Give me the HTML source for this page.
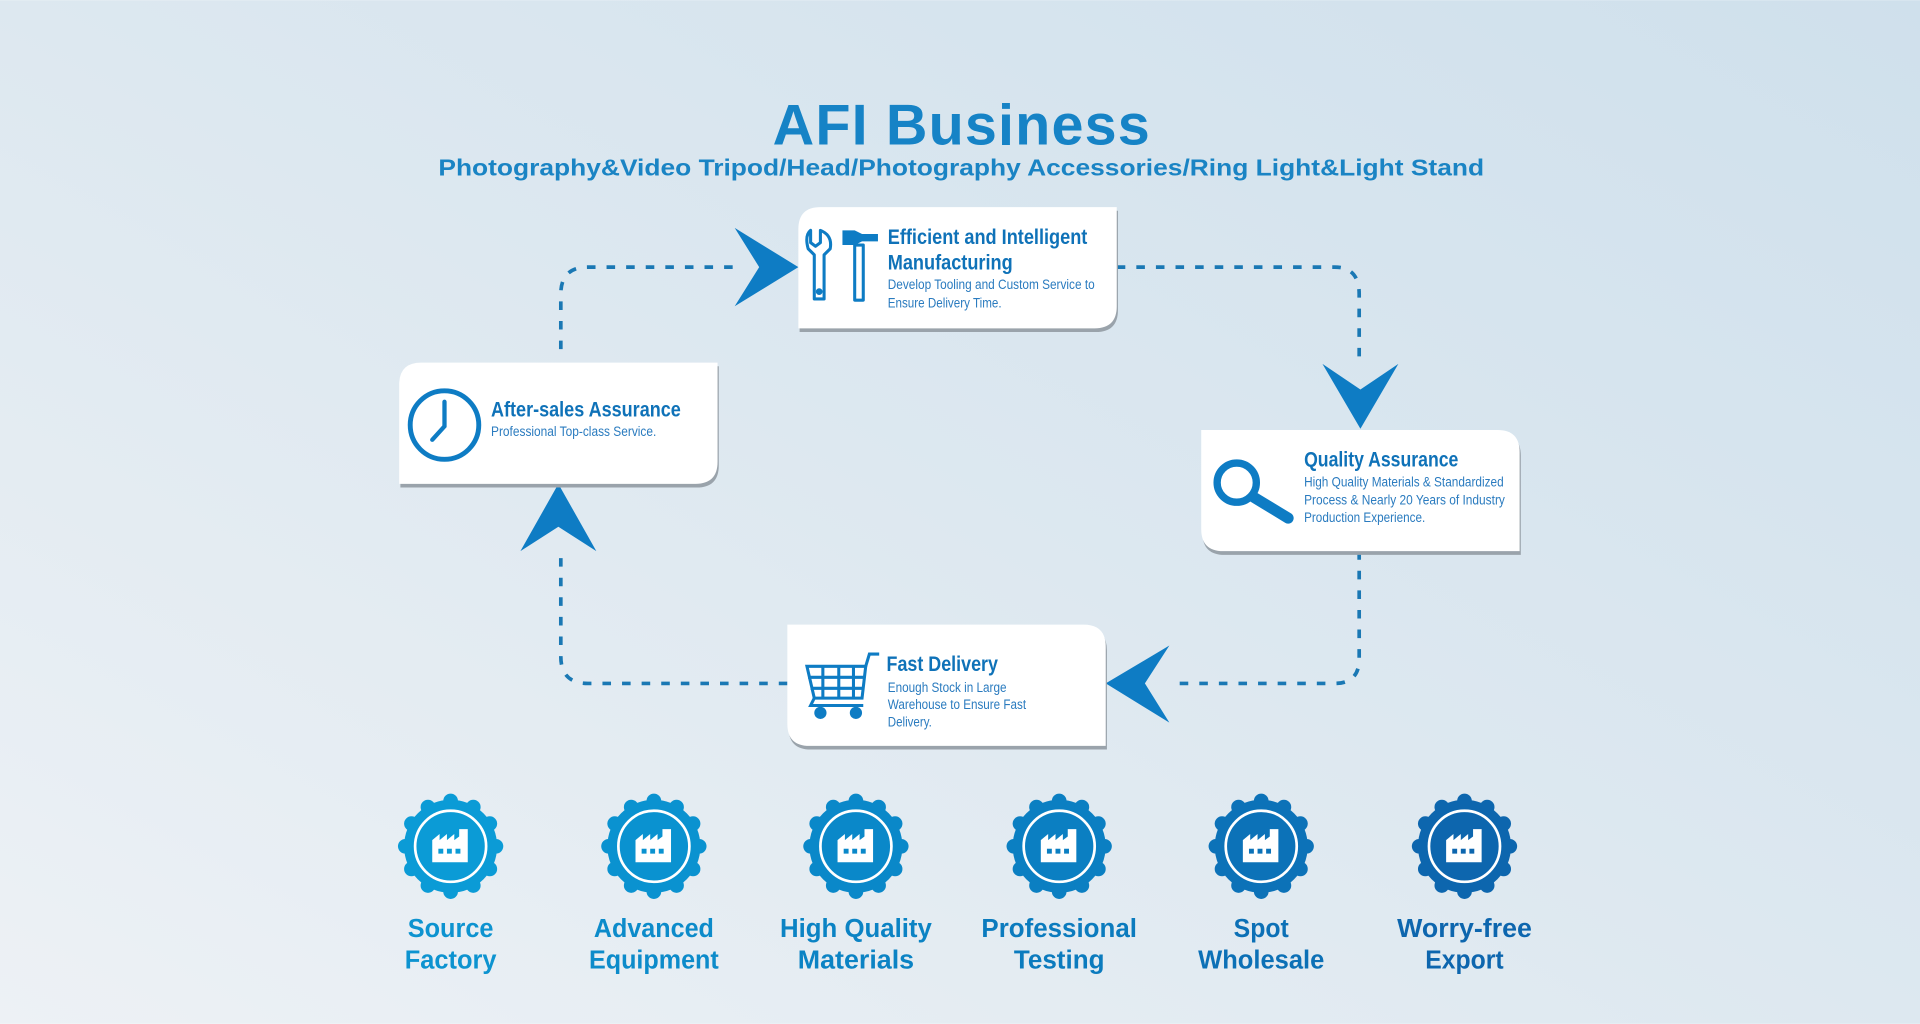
<!DOCTYPE html>
<html><head><meta charset="utf-8"><style>
html,body{margin:0;padding:0;width:1920px;height:1024px;overflow:hidden}
svg{display:block}
.t{font-family:"Liberation Sans Narrow","Liberation Sans",sans-serif;fill:#0f72b8}
.tt{font-size:17.5px;font-weight:bold}
.b{font-size:11.5px;fill:#2a7bbf}
.lab{font-family:"Liberation Sans",sans-serif;font-weight:bold;font-size:21px;text-anchor:middle}
</style></head><body>
<svg width="1920" height="1024" viewBox="0 0 1568 836" xmlns="http://www.w3.org/2000/svg">
<defs>
<linearGradient id="bg" x1="1" y1="0" x2="0" y2="1">
<stop offset="0" stop-color="#cfe0ec"/><stop offset="0.5" stop-color="#dde8f0"/><stop offset="1" stop-color="#edf1f5"/>
</linearGradient>
<g id="gear">
<circle r="38"/>
<g>
<circle cx="0" cy="-37" r="6"/><circle cx="18.5" cy="-32" r="6"/><circle cx="32" cy="-18.5" r="6"/>
<circle cx="37" cy="0" r="6"/><circle cx="32" cy="18.5" r="6"/><circle cx="18.5" cy="32" r="6"/>
<circle cx="0" cy="37" r="6"/><circle cx="-18.5" cy="32" r="6"/><circle cx="-32" cy="18.5" r="6"/>
<circle cx="-37" cy="0" r="6"/><circle cx="-32" cy="-18.5" r="6"/><circle cx="-18.5" cy="-32" r="6"/>
</g>
<circle r="29" fill="none" stroke="#fff" stroke-width="2.2"/>
<path d="M-15,-5 L-9,-10 V-5 L-3,-10 V-5 L3,-10 V-5 L7,-8 V-14 H14 V13 H-15 Z" fill="#fff"/>
<rect x="-10" y="2" width="4" height="4" fill="currentColor"/><rect x="-3" y="2" width="4" height="4" fill="currentColor"/><rect x="4" y="2" width="4" height="4" fill="currentColor"/>
</g>
</defs>
<rect width="1568" height="836" fill="url(#bg)"/>

<text x="785" y="118" text-anchor="middle" font-family="Liberation Sans,sans-serif" font-weight="bold" font-size="47" fill="#1683c6" textLength="308" lengthAdjust="spacing">AFI Business</text>
<text x="785" y="143" text-anchor="middle" font-family="Liberation Sans,sans-serif" font-weight="bold" font-size="19" fill="#1a84c4" textLength="854" lengthAdjust="spacingAndGlyphs">Photography&amp;Video Tripod/Head/Photography Accessories/Ring Light&amp;Light Stand</text>

<g fill="none" stroke="#1a78b4" stroke-width="3" stroke-dasharray="7 9">
<path d="M458,285 V240 Q458,218 480,218 H600"/>
<path d="M912,218 H1090 Q1110,218 1110,240 V300"/>
<path d="M1110,450 V538 Q1110,558 1090,558 H955"/>
<path d="M643,558 H480 Q458,558 458,536 V450"/>
</g>
<g fill="#0e7cc4">
<path d="M600,186 L652,218 L600,250 L620,218 Z"/>
<path d="M1080,297 L1111,350 L1142,297 L1111,318 Z"/>
<path d="M955,527 L903,558 L955,590 L935,558 Z"/>
<path d="M425,450 L456,395 L487,450 L456,430 Z"/>
</g>

<g fill="#9aa3ab" transform="translate(1,3)">
<path d="M670,169 H912 V250 Q912,268 894,268 H652 V187 Q652,169 670,169 Z"/>
<path d="M981,351 H1223 Q1241,351 1241,369 V450 H999 Q981,450 981,432 Z"/>
<path d="M344,296 H586 V377 Q586,395 568,395 H326 V314 Q326,296 344,296 Z"/>
<path d="M643,510 H885 Q903,510 903,528 V609 H661 Q643,609 643,591 Z"/>
</g>
<g fill="#fff">
<path d="M670,169 H912 V250 Q912,268 894,268 H652 V187 Q652,169 670,169 Z"/>
<path d="M981,351 H1223 Q1241,351 1241,369 V450 H999 Q981,450 981,432 Z"/>
<path d="M344,296 H586 V377 Q586,395 568,395 H326 V314 Q326,296 344,296 Z"/>
<path d="M643,510 H885 Q903,510 903,528 V609 H661 Q643,609 643,591 Z"/>
</g>

<g fill="none" stroke="#0e7cc4" stroke-width="2.5" stroke-linejoin="round">
<path d="M662,188 V198 L666,201 L670,198 V188 Q680,192 678,203 L673,208 V244 H665 V208 L660,203 Q657,192 662,188 Z"/>
<circle cx="669" cy="238" r="1.5" fill="#0e7cc4"/>
<path d="M698,200 H705 V245 H698 Z"/>
</g>
<path d="M688,188 H698 L704,191 H717 V197 H704 L698,200 H688 Z" fill="#0e7cc4"/>
<circle cx="363" cy="347" r="28" fill="none" stroke="#0e7cc4" stroke-width="4"/>
<path d="M363,328 V348 L353,359" fill="none" stroke="#0e7cc4" stroke-width="3.5" stroke-linecap="round"/>
<circle cx="1010" cy="394" r="16" fill="none" stroke="#0e7cc4" stroke-width="6"/>
<path d="M1024,406 L1052,423" stroke="#0e7cc4" stroke-width="9" stroke-linecap="round"/>
<g fill="none" stroke="#0e7cc4" stroke-width="2.5">
<path d="M659,544 H707 L704,570 H665 Z"/>
<path d="M660,553 H706 M662,562 H705 M672,544 V570 M685,543 V570 M697,543 V570"/>
<path d="M707,544 L710,534 H718 M665,570 L662,576 H705"/>
</g>
<circle cx="670" cy="582" r="5" fill="#0e7cc4"/><circle cx="699" cy="582" r="5" fill="#0e7cc4"/>

<text class="t tt" x="725" y="199" textLength="163" lengthAdjust="spacingAndGlyphs">Efficient and Intelligent</text>
<text class="t tt" x="725" y="220" textLength="102" lengthAdjust="spacingAndGlyphs">Manufacturing</text>
<text class="t b" x="725" y="236" textLength="169" lengthAdjust="spacingAndGlyphs">Develop Tooling and Custom Service to</text>
<text class="t b" x="725" y="251" textLength="93" lengthAdjust="spacingAndGlyphs">Ensure Delivery Time.</text>

<text class="t tt" x="401" y="340" textLength="155" lengthAdjust="spacingAndGlyphs">After-sales Assurance</text>
<text class="t b" x="401" y="356" textLength="135" lengthAdjust="spacingAndGlyphs">Professional Top-class Service.</text>

<text class="t tt" x="1065" y="381" textLength="126" lengthAdjust="spacingAndGlyphs">Quality Assurance</text>
<text class="t b" x="1065" y="397" textLength="163" lengthAdjust="spacingAndGlyphs">High Quality Materials &amp; Standardized</text>
<text class="t b" x="1065" y="412" textLength="164" lengthAdjust="spacingAndGlyphs">Process &amp; Nearly 20 Years of Industry</text>
<text class="t b" x="1065" y="426" textLength="99" lengthAdjust="spacingAndGlyphs">Production Experience.</text>

<text class="t tt" x="724" y="548" textLength="91" lengthAdjust="spacingAndGlyphs">Fast Delivery</text>
<text class="t b" x="725" y="565" textLength="97" lengthAdjust="spacingAndGlyphs">Enough Stock in Large</text>
<text class="t b" x="725" y="579" textLength="113" lengthAdjust="spacingAndGlyphs">Warehouse to Ensure Fast</text>
<text class="t b" x="725" y="593" textLength="36" lengthAdjust="spacingAndGlyphs">Delivery.</text>

<g transform="translate(368,691)" fill="#0b9bd6" color="#0b9bd6"><use href="#gear"/></g>
<g transform="translate(534,691)" fill="#0a92d0" color="#0a92d0"><use href="#gear"/></g>
<g transform="translate(699,691)" fill="#0a88c9" color="#0a88c9"><use href="#gear"/></g>
<g transform="translate(865,691)" fill="#0b7fc2" color="#0b7fc2"><use href="#gear"/></g>
<g transform="translate(1030,691)" fill="#0c72b8" color="#0c72b8"><use href="#gear"/></g>
<g transform="translate(1196,691)" fill="#0d66ae" color="#0d66ae"><use href="#gear"/></g>

<g class="lab">
<text class="lab" x="368" y="765" fill="#0d93d0" textLength="70" lengthAdjust="spacingAndGlyphs">Source</text><text class="lab" x="368" y="791" fill="#0d93d0" textLength="75" lengthAdjust="spacingAndGlyphs">Factory</text>
<text class="lab" x="534" y="765" fill="#0c8bca" textLength="98" lengthAdjust="spacingAndGlyphs">Advanced</text><text class="lab" x="534" y="791" fill="#0c8bca" textLength="106" lengthAdjust="spacingAndGlyphs">Equipment</text>
<text class="lab" x="699" y="765" fill="#0b83c4" textLength="124" lengthAdjust="spacingAndGlyphs">High Quality</text><text class="lab" x="699" y="791" fill="#0b83c4" textLength="95" lengthAdjust="spacingAndGlyphs">Materials</text>
<text class="lab" x="865" y="765" fill="#0b7bbe" textLength="127" lengthAdjust="spacingAndGlyphs">Professional</text><text class="lab" x="865" y="791" fill="#0b7bbe" textLength="74" lengthAdjust="spacingAndGlyphs">Testing</text>
<text class="lab" x="1030" y="765" fill="#0c70b6" textLength="45" lengthAdjust="spacingAndGlyphs">Spot</text><text class="lab" x="1030" y="791" fill="#0c70b6" textLength="103" lengthAdjust="spacingAndGlyphs">Wholesale</text>
<text class="lab" x="1196" y="765" fill="#0d66ae" textLength="110" lengthAdjust="spacingAndGlyphs">Worry-free</text><text class="lab" x="1196" y="791" fill="#0d66ae" textLength="64" lengthAdjust="spacingAndGlyphs">Export</text>
</g>
</svg>
</body></html>
